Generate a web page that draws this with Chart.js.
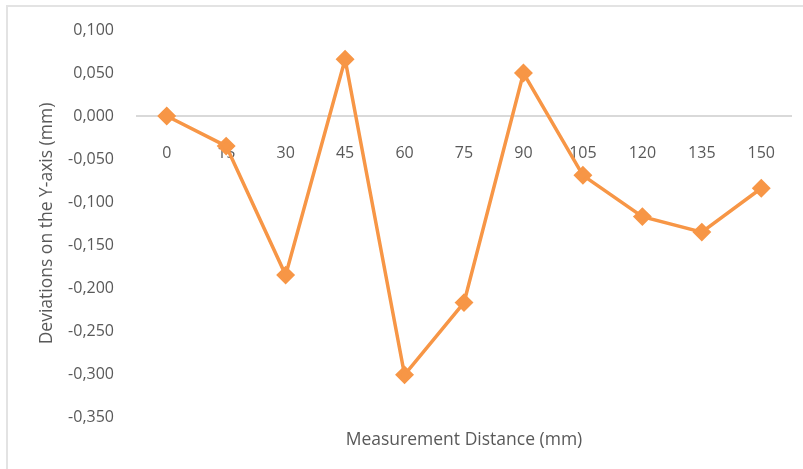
<!DOCTYPE html>
<html>
<head>
<meta charset="utf-8">
<script src="https://cdn.jsdelivr.net/npm/chart.js@4.4.1/dist/chart.umd.min.js"></script>
<style>
  body { margin: 0; background: #fff; }
  #frame { position: absolute; left: 6px; top: 5px; width: 797px; height: 464px;
           border-left: 2px solid #e3e3e3; border-top: 2px solid #e3e3e3; }
  #wrap { position: absolute; left: 0; top: 0; width: 803px; height: 469px; }
</style>
</head>
<body>
<div id="frame"></div>
<div id="wrap"><canvas id="devChart"></canvas></div>
<script>
// Measurement distance (mm) and deviations on Y (mm)
const distances = ["0", "15", "30", "45", "60", "75", "90", "105", "120", "135", "150"];
const deviations = [0.000, -0.035, -0.185, 0.066, -0.301, -0.217, 0.050, -0.069, -0.117, -0.135, -0.084];
const yMin = -0.35;
const yMax = 0.1;
const yStep = 0.05;

const textColor = "#595959";
const orange = "#F79646";
const font = { family: "'Open Sans', sans-serif", size: 16 };
const titleFont = { family: "'Open Sans', sans-serif", size: 17.5 };

const ctx = document.getElementById("devChart").getContext("2d");

new Chart(ctx, {
  type: "line",
  data: {
    labels: distances,
    datasets: [{
      label: "Deviation",
      data: deviations,
      borderColor: orange,
      backgroundColor: orange,
      borderWidth: 3.5,
      pointStyle: "rectRot",
      pointRadius: 7,
      pointHoverRadius: 7,
      tension: 0,
      xAxisID: "x"
    }]
  },
  options: {
    responsive: true,
    maintainAspectRatio: false,
    animation: false,
    layout: { padding: { left: 28, top: 30, right: 12, bottom: 18 } },
    plugins: {
      legend: { display: false },
      tooltip: { enabled: false }
    },
    scales: {
      x: {
        type: "category",
        position: { y: 0 },
        offset: true,
        grid: { display: false },
        border: { display: true, color: "#d9d9d9", width: 2 },
        ticks: { color: textColor, font: font, padding: 20, maxRotation: 0, autoSkip: false }
      },
      x2: {
        type: "category",
        labels: distances,
        position: "bottom",
        grid: { display: false },
        border: { display: false },
        ticks: { display: false },
        title: {
          display: true,
          text: "Measurement Distance (mm)",
          color: textColor,
          font: titleFont,
          padding: { top: 9, bottom: 0 }
        },
        afterFit: (scale) => { scale.height = 34; }
      },
      y: {
        min: yMin,
        max: yMax,
        grid: { display: false },
        border: { display: false },
        ticks: {
          stepSize: yStep,
          color: textColor,
          font: font,
          padding: 15,
          callback: (v) => v.toFixed(3).replace(".", ",")
        },
        title: {
          display: true,
          text: "Deviations on the Y-axis (mm)",
          color: textColor,
          font: titleFont,
          padding: { top: 9, bottom: 0 }
        },
        afterFit: (scale) => { scale.width = 109; }
      }
    }
  }
});
</script>
</body>
</html>
